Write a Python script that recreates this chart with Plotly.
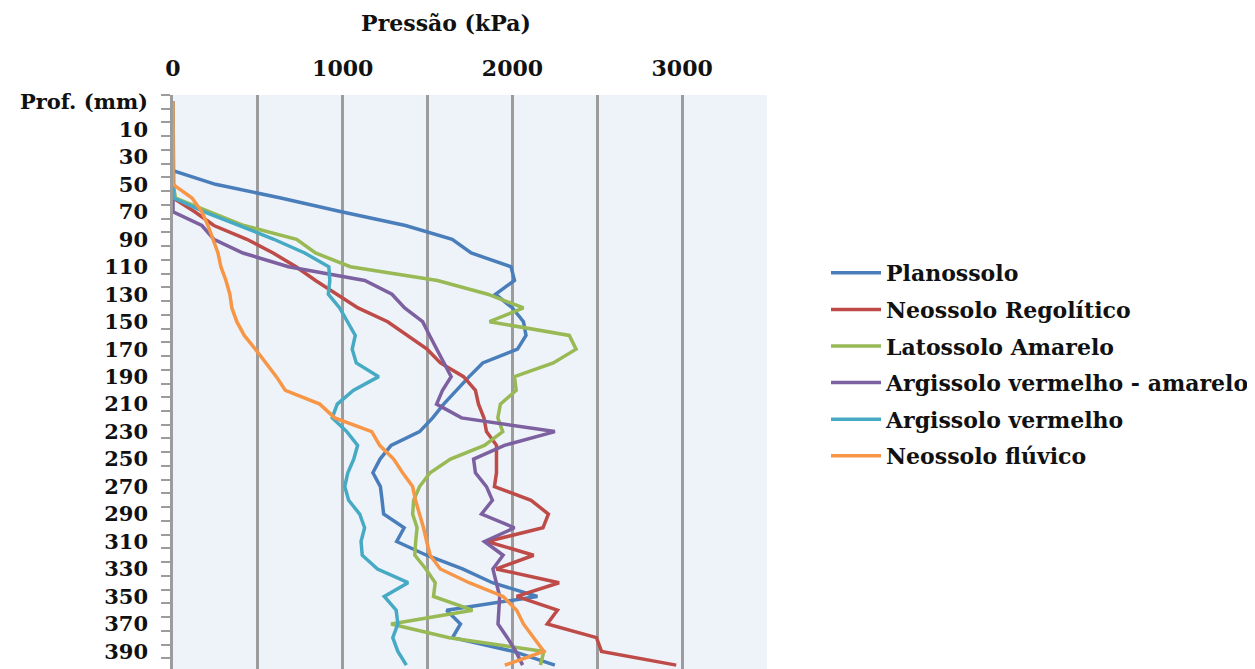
import plotly.graph_objects as go

depth_labels = ["Prof. (mm)", "0", "10", "20", "30", "40", "50", "60", "70", "80", "90",
                "100", "110", "120", "130", "140", "150", "160", "170", "180", "190",
                "200", "210", "220", "230", "240", "250", "260", "270", "280", "290",
                "300", "310", "320", "330", "340", "350", "360", "370", "380", "390", "400"]

planossolo = [0, 0, 0, 0, 0, 0, 250, 635, 992, 1370, 1645, 1757, 1992, 2012, 1900, 2000,
              2065, 2080, 2030, 1825, 1745, 1670, 1595, 1530, 1453, 1285, 1220, 1178, 1222,
              1232, 1241, 1362, 1318, 1494, 1706, 1882, 2147, 1612, 1694, 1647, 2006, 2250]
neossolo_regolitico = [0, 0, 0, 0, 0, 0, 0, 0, 128, 241, 435, 590, 725, 840, 965, 1090,
                       1265, 1385, 1497, 1576, 1712, 1782, 1800, 1832, 1847, 1906, 1906, 1906,
                       1894, 2110, 2212, 2180, 1850, 2125, 1905, 2275, 2025, 2265, 2205, 2495,
                       2525, 2965]
latossolo_amarelo = [0, 0, 0, 0, 0, 0, 0, 15, 220, 418, 728, 840, 1045, 1558, 1855, 2065,
                     1865, 2335, 2375, 2241, 2012, 2022, 1929, 1914, 1943, 1835, 1635, 1515,
                     1453, 1418, 1412, 1438, 1430, 1425, 1490, 1545, 1535, 1765, 1285, 1628,
                     2185, 2165]
argissolo_va = [0, 0, 0, 0, 0, 0, 0, 0, 0, 170, 241, 412, 680, 1130, 1290, 1365, 1471, 1512,
                1553, 1594, 1639, 1588, 1553, 1700, 2250, 1953, 1771, 1782, 1847, 1882, 1818,
                2012, 1835, 1945, 1885, 1905, 1925, 1920, 1915, 1970, 2020, 2060]
argissolo_v = [0, 0, 0, 0, 0, 0, 0, 5, 185, 385, 594, 776, 918, 924, 915, 982, 1030, 1074,
               1056, 1080, 1212, 1062, 968, 938, 1024, 1088, 1065, 1030, 1012, 1035, 1100,
               1129, 1108, 1115, 1205, 1385, 1245, 1315, 1325, 1295, 1325, 1375]
neossolo_fluvico = [0, 0, 0, 0, 0, 0, 0, 112, 170, 206, 235, 265, 282, 312, 335, 347, 376,
                    420, 485, 550, 609, 662, 865, 953, 1171, 1218, 1300, 1353, 1412, 1429,
                    1453, 1476, 1495, 1515, 1575, 1745, 1945, 2025, 2065, 2125, 2185, 1955]

series_names = ["Planossolo", "Neossolo Regolítico", "Latossolo Amarelo",
                "Argissolo vermelho - amarelo", "Argissolo vermelho", "Neossolo flúvico"]
series_values = [planossolo, neossolo_regolitico, latossolo_amarelo,
                 argissolo_va, argissolo_v, neossolo_fluvico]
colors = ["#4A7EBB", "#BE4B48", "#98B954", "#7D60A0", "#46AAC5", "#F79646"]

x_tick_vals = [0, 1000, 2000, 3000]
x_tick_text = ["0", "1000", "2000", "3000"]
x_minor_vals = [500, 1500, 2500, 3500]

ypos = list(range(len(depth_labels)))

FONT = "DejaVu Serif"
TXT = "#111111"
W, H = 1247, 661          # page adds an 8px body margin
ML, MT, PW, PH = 165, 87, 594, 574

fig = go.Figure()
for name, vals, col in zip(series_names, series_values, colors):
    fig.add_trace(go.Scatter(x=vals, y=ypos, mode="lines", name=name,
                             legendgroup=name,
                             line=dict(color=col, width=3.5)))

grid_col = "#9C9C9C"
fig.update_layout(
    width=W, height=H,
    margin=dict(l=ML, r=W - ML - PW, t=MT, b=H - MT - PH, autoexpand=False),
    paper_bgcolor="white", plot_bgcolor="#EEF3F9",
    font=dict(family=FONT, size=22, color=TXT, weight="bold"),
    title=dict(text="Pressão (kPa)", x=438 / W, xanchor="center", xref="container",
               y=1 - 15 / H, yanchor="middle", yref="container",
               font=dict(family=FONT, size=22, color=TXT, weight="bold")),
    xaxis=dict(side="top", range=[0, 3500], tickmode="array", tickvals=x_tick_vals,
               ticktext=x_tick_text, showgrid=True, gridcolor=grid_col, gridwidth=2.5,
               zeroline=False, showline=False, ticks="", ticklabelstandoff=14,
               automargin=False,
               tickfont=dict(family=FONT, size=22, color=TXT, weight="bold"),
               minor=dict(tickmode="array", tickvals=x_minor_vals, showgrid=True,
                          gridcolor=grid_col, gridwidth=2.5, ticks="")),
    yaxis=dict(range=[41.28, -0.5], tickmode="array", tickvals=ypos[::2],
               ticktext=depth_labels[::2], showgrid=False, zeroline=False,
               showline=True, linecolor=grid_col, linewidth=2.5, ticks="",
               ticklabelstandoff=18, automargin=False,
               tickfont=dict(family=FONT, size=21, color=TXT, weight="bold"),
               minor=dict(tickmode="array", tickvals=[i - 0.5 for i in range(len(ypos) + 1)],
                          ticks="outside", ticklen=9, tickwidth=2, tickcolor=grid_col,
                          showgrid=False)),
    legend=dict(x=(818 - ML) / PW, y=1 - (244 - MT) / PH, xanchor="left", yanchor="top",
                xref="paper", yref="paper", bgcolor="rgba(0,0,0,0)",
                tracegroupgap=5, itemwidth=50,
                font=dict(family=FONT, size=22, color=TXT, weight="bold")),
    showlegend=True,
)

fig.write_html("out.html")
